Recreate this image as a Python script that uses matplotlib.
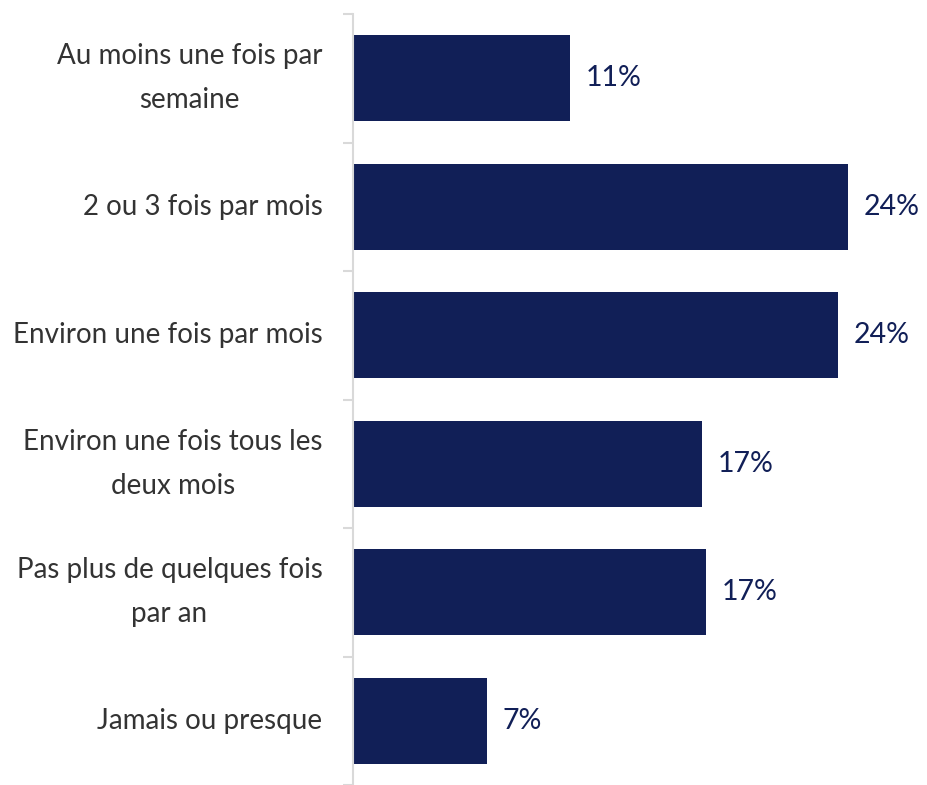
import matplotlib
matplotlib.use("Agg")
import matplotlib.pyplot as plt
import numpy as np

categories = [
    "Au moins une fois par\nsemaine",
    "2 ou 3 fois par mois",
    "Environ une fois par mois",
    "Environ une fois tous les\ndeux mois",
    "Pas plus de quelques fois\npar an",
    "Jamais ou presque",
]
values = [10.7, 24.4, 23.9, 17.2, 17.4, 6.6]
labels = ["11%", "24%", "24%", "17%", "17%", "7%"]

navy = "#111f57"
grid_gray = "#d9d9d9"

plt.rcParams["font.family"] = ["Lato", "DejaVu Sans"]

fig = plt.figure(figsize=(9.28, 7.85), dpi=100)
ax = fig.add_axes([353 / 928, 0, 568 / 928, 771 / 785])

y = np.arange(len(categories))
ax.barh(y, values, height=0.67, color=navy)

for yi, v, lab in zip(y, values, labels):
    ax.annotate(lab, (v, yi), xytext=(16, 0), textcoords="offset pixels",
                va="center", ha="left", fontsize=20.5, color=navy)

ax.set_xlim(0, 28)
ax.set_ylim(5.5, -0.5)

ax.set_yticks(y)
ax.set_yticklabels(categories, fontsize=20, color="#333333",
                   multialignment="center", linespacing=1.85, va="center")
ax.tick_params(axis="y", which="major", length=0, pad=22)
ax.set_yticks(np.arange(-0.5, 6.0, 1.0), minor=True)
ax.tick_params(axis="y", which="minor", length=7.5, width=1.5, color=grid_gray)
ax.set_xticks([])

for s in ["top", "right", "bottom"]:
    ax.spines[s].set_visible(False)
ax.spines["left"].set_color(grid_gray)
ax.spines["left"].set_linewidth(1.5)

fig.savefig("out.png", dpi=100)
